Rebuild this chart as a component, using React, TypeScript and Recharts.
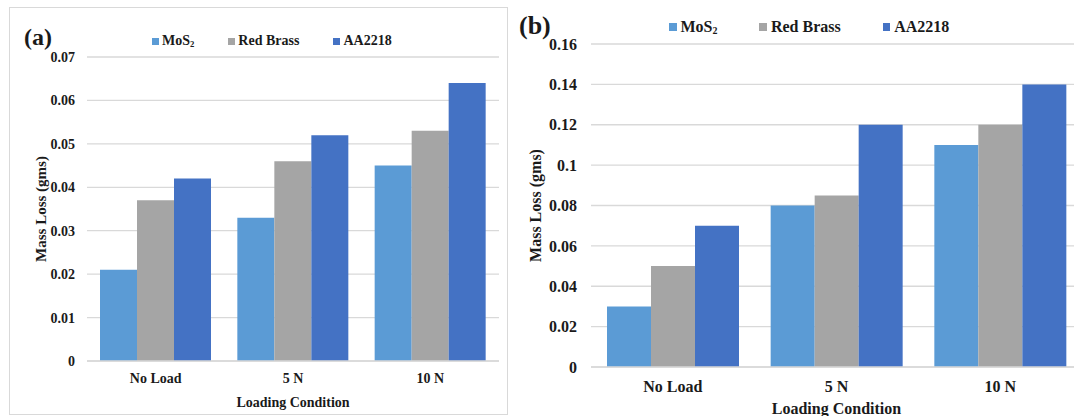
import React from 'react';
import { BarChart, Bar, XAxis, YAxis, CartesianGrid } from 'recharts';

const categories = ['No Load', '5 N', '10 N'];
const seriesNames = ['MoS₂', 'Red Brass', 'AA2218'];

const mos2A = [0.021, 0.033, 0.045];
const redBrassA = [0.037, 0.046, 0.053];
const aa2218A = [0.042, 0.052, 0.064];

const mos2B = [0.03, 0.08, 0.11];
const redBrassB = [0.05, 0.085, 0.12];
const aa2218B = [0.07, 0.12, 0.14];

const yTicksA = [0, 0.01, 0.02, 0.03, 0.04, 0.05, 0.06, 0.07];
const yTicksB = [0, 0.02, 0.04, 0.06, 0.08, 0.1, 0.12, 0.14, 0.16];

const xTitle = 'Loading Condition';
const yTitle = 'Mass Loss (gms)';

const COLORS = ['#5B9BD5', '#A5A5A5', '#4472C4'];
const FONT = "'Liberation Serif', 'Times New Roman', serif";
const GRID = '#D9D9D9';
const TEXT = '#1a1a1a';

const keys = ['s0', 's1', 's2'];

function buildData(vals: number[][]) {
  return categories.map((c, i) => {
    const row: any = { cat: c };
    vals.forEach((v, j) => (row[keys[j]] = v[i]));
    return row;
  });
}

const dataA = buildData([mos2A, redBrassA, aa2218A]);
const dataB = buildData([mos2B, redBrassB, aa2218B]);

function LegendLabel({ text }: { text: string }) {
  const parts = text.split('₂');
  if (parts.length === 1) return <span>{text}</span>;
  return (
    <span>
      {parts[0]}
      <span style={{ fontSize: '0.62em', position: 'relative', top: '0.25em' }}>2</span>
      {parts[1]}
    </span>
  );
}

function HtmlLegend({ left, centerY, fontSize, square, gap, textGap }: any) {
  return (
    <div
      style={{
        position: 'absolute',
        left,
        top: centerY - fontSize,
        height: fontSize * 2,
        display: 'flex',
        alignItems: 'center',
        gap,
        fontFamily: FONT,
        fontWeight: 'bold',
        fontSize,
        color: TEXT,
        whiteSpace: 'nowrap',
      }}
    >
      {seriesNames.map((n, i) => (
        <div key={n} style={{ display: 'flex', alignItems: 'center' }}>
          <div style={{ width: square, height: square, background: COLORS[i], marginRight: textGap }} />
          <LegendLabel text={n} />
        </div>
      ))}
    </div>
  );
}

const textStyle = (size: number) => ({
  fontFamily: FONT,
  fontWeight: 700,
  fontSize: size,
  fill: TEXT,
});

function XTick({ x, y, payload, size }: any) {
  return (
    <text x={x} y={y} dy="0.71em" textAnchor="middle" style={textStyle(size)}>
      {payload.value}
    </text>
  );
}

function YTick({ x, y, payload, size }: any) {
  return (
    <text x={x} y={y} dy="0.355em" textAnchor="end" style={textStyle(size)}>
      {String(payload.value)}
    </text>
  );
}

function Panel({ data, ticks, max, width, height, margin, yAxisWidth, xAxisHeight, fontSize, yTitleSize, tickMargin, catGap, yTitleX, xTitleDy }: any) {
  return (
    <BarChart
      width={width}
      height={height}
      data={data}
      margin={margin}
      barCategoryGap={catGap}
      barGap={0}
    >
      <CartesianGrid vertical={false} stroke={GRID} strokeWidth={1.3} />
      <XAxis
        dataKey="cat"
        height={xAxisHeight}
        axisLine={{ stroke: GRID, strokeWidth: 1.3 }}
        tickLine={false}
        tickSize={0}
        tickMargin={tickMargin}
        tick={(p: any) => <XTick {...p} size={fontSize} />}
        label={{
          content: ({ viewBox }: any) => (
            <text
              x={viewBox.x + viewBox.width / 2}
              y={viewBox.y + xTitleDy}
              textAnchor="middle"
              style={textStyle(fontSize)}
            >
              {xTitle}
            </text>
          ),
        }}
      />
      <YAxis
        width={yAxisWidth}
        domain={[0, max]}
        ticks={ticks}
        interval={0}
        axisLine={false}
        tickLine={false}
        tickSize={0}
        tickMargin={tickMargin}
        tick={(p: any) => <YTick {...p} size={fontSize} />}
        label={{
          content: ({ viewBox }: any) => {
            const cy = viewBox.y + viewBox.height / 2;
            return (
              <text
                x={yTitleX}
                y={cy}
                transform={`rotate(-90, ${yTitleX}, ${cy})`}
                textAnchor="middle"
                dy="0.35em"
                style={textStyle(yTitleSize)}
              >
                {yTitle}
              </text>
            );
          },
        }}
      />
      {keys.map((k, i) => (
        <Bar key={k} dataKey={k} name={seriesNames[i]} fill={COLORS[i]} isAnimationActive={false} />
      ))}
    </BarChart>
  );
}

export default function App() {
  return (
    <div
      style={{
        position: 'absolute',
        left: 0,
        top: 0,
        width: 1074,
        height: 416,
        overflow: 'hidden',
        background: '#fff',
      }}
    >
      {/* Panel (a) */}
      <div
        style={{
          position: 'absolute',
          left: 9,
          top: 7,
          width: 499,
          height: 408,
          border: `1px solid ${GRID}`,
          boxSizing: 'border-box',
        }}
      />
      <div style={{ position: 'absolute', left: 0, top: 0 }}>
        <Panel
          data={dataA}
          ticks={yTicksA}
          max={0.07}
          width={510}
          height={416}
          margin={{ top: 57, right: 11, bottom: 0, left: 0 }}
          yAxisWidth={87}
          xAxisHeight={55}
          fontSize={14}
          yTitleSize={15}
          tickMargin={12}
          catGap={13}
          yTitleX={41}
          xTitleDy={46}
        />
      </div>
      <div
        style={{
          position: 'absolute',
          left: 24,
          top: 36.5 - 14,
          height: 28,
          lineHeight: '28px',
          fontFamily: FONT,
          fontWeight: 'bold',
          fontSize: 24,
          color: TEXT,
        }}
      >
        (a)
      </div>
      <HtmlLegend left={152} centerY={41} fontSize={14} square={7} gap={34} textGap={3} />

      {/* Panel (b) */}
      <div style={{ position: 'absolute', left: 515, top: 0 }}>
        <Panel
          data={dataB}
          ticks={yTicksB}
          max={0.16}
          width={580}
          height={440}
          margin={{ top: 44, right: 13, bottom: 23, left: 0 }}
          yAxisWidth={76}
          xAxisHeight={50}
          fontSize={16}
          yTitleSize={16}
          tickMargin={14}
          catGap={16}
          yTitleX={20}
          xTitleDy={47}
        />
      </div>
      <div
        style={{
          position: 'absolute',
          left: 519,
          top: 26 - 15,
          height: 30,
          lineHeight: '30px',
          fontFamily: FONT,
          fontWeight: 'bold',
          fontSize: 26,
          color: TEXT,
        }}
      >
        (b)
      </div>
      <HtmlLegend left={669} centerY={27} fontSize={16} square={7.5} gap={42} textGap={4} />
    </div>
  );
}
